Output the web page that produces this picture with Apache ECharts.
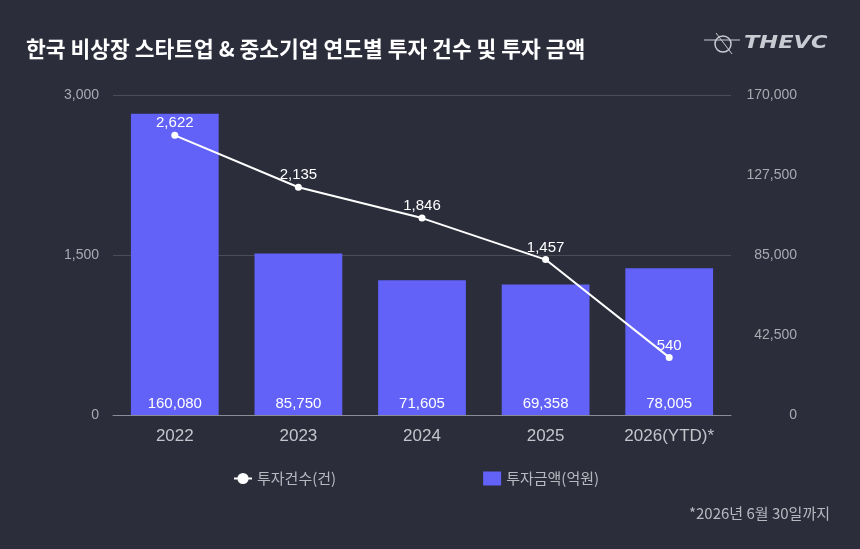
<!DOCTYPE html>
<html>
<head>
<meta charset="utf-8">
<script src="https://cdn.jsdelivr.net/npm/echarts@6/dist/echarts.min.js"></script>
<style>
  html, body { margin: 0; padding: 0; background: #1c1e27; }
  #chart { width: 860px; height: 549px; }
</style>
</head>
<body>
<div id="chart"></div>
<script>
  // 연도별 데이터
  const years = ['2022', '2023', '2024', '2025', '2026(YTD)*'];
  const dealCounts = [2622, 2135, 1846, 1457, 540];
  const dealAmounts = [160080, 85750, 71605, 69358, 78005];
  const leftTicks = { min: 0, max: 3000, interval: 1500 };
  const rightTicks = { min: 0, max: 170000, interval: 42500 };

  const font = '"Noto Sans CJK KR", "Noto Sans", sans-serif';
  const numFont = '"Liberation Sans", Arial, sans-serif';
  const fmt = v => Number(v).toLocaleString('en-US');

  let myChart = echarts.init(document.getElementById('chart'));
  let option = {
    backgroundColor: '#2b2d3b',
    textStyle: { fontFamily: font },
    title: [{
      text: '한국 비상장 스타트업 & 중소기업 연도별 투자 건수 및 투자 금액',
      left: 21,
      top: 33,
      textStyle: { color: '#ffffff', fontSize: 21.5, fontWeight: 'bold', fontFamily: font }
    }, {
      text: '*2026년 6월 30일까지',
      right: 25,
      top: 501,
      textStyle: { color: '#b8b9c0', fontSize: 15, fontWeight: 'normal', fontFamily: font }
    }],
    graphic: [{
      type: 'text',
      left: 744,
      top: 34,
      scaleX: 1.25,
      style: {
        text: 'THEVC',
        fill: '#c9cbd2',
        font: 'italic 900 18px "DejaVu Sans", sans-serif'
      }
    }, {
      type: 'circle',
      shape: { cx: 723, cy: 44, r: 8 },
      style: { fill: 'none', stroke: '#c9cbd2', lineWidth: 1.5 }
    }, {
      type: 'line',
      shape: { x1: 704, y1: 40, x2: 740, y2: 40 },
      style: { stroke: '#c9cbd2', lineWidth: 1 }
    }, {
      type: 'line',
      shape: { x1: 716, y1: 33, x2: 732, y2: 54 },
      style: { stroke: '#c9cbd2', lineWidth: 1 }
    }],
    legend: {
      top: 466,
      left: 228,
      itemGap: 147,
      itemWidth: 18,
      itemHeight: 14,
      textStyle: { color: '#b8b9c0', fontSize: 15, fontFamily: font },
      data: [
        { name: '투자건수(건)' },
        { name: '투자금액(억원)', icon: 'rect', itemWidth: 14 }
      ]
    },
    grid: { left: 113, right: 129, top: 95, bottom: 134 },
    xAxis: {
      type: 'category',
      data: years,
      axisLine: { lineStyle: { color: '#8a8c96' } },
      axisTick: { show: false },
      axisLabel: { color: '#c4c5cc', fontSize: 17, margin: 13, fontFamily: numFont }
    },
    yAxis: [{
      type: 'value',
      min: leftTicks.min,
      max: leftTicks.max,
      interval: leftTicks.interval,
      axisLine: { show: false },
      axisTick: { show: false },
      splitLine: { lineStyle: { color: '#4a4c58', width: 1 } },
      axisLabel: { color: '#a9aab2', fontSize: 14, margin: 14, formatter: fmt, fontFamily: numFont }
    }, {
      type: 'value',
      min: rightTicks.min,
      max: rightTicks.max,
      interval: rightTicks.interval,
      axisLine: { show: false },
      axisTick: { show: false },
      splitLine: { show: false },
      axisLabel: {
        color: '#a9aab2', fontSize: 14, margin: 66, align: 'right',
        formatter: fmt, fontFamily: numFont
      }
    }],
    series: [{
      name: '투자금액(억원)',
      type: 'bar',
      yAxisIndex: 1,
      data: dealAmounts,
      barWidth: '71%',
      itemStyle: { color: '#6262f8' },
      label: {
        show: true,
        position: 'insideBottom',
        distance: 4,
        color: '#ffffff',
        fontSize: 15,
        fontFamily: numFont,
        formatter: p => fmt(p.value)
      },
      z: 1
    }, {
      name: '투자건수(건)',
      type: 'line',
      yAxisIndex: 0,
      data: dealCounts,
      symbol: 'circle',
      symbolSize: 7,
      lineStyle: { color: '#ffffff', width: 2 },
      itemStyle: { color: '#ffffff' },
      label: {
        show: true,
        position: 'top',
        distance: 1,
        color: '#ffffff',
        fontSize: 15,
        fontFamily: numFont,
        formatter: p => fmt(p.value)
      },
      z: 3
    }]
  };
  myChart.setOption(option);
</script>
</body>
</html>
